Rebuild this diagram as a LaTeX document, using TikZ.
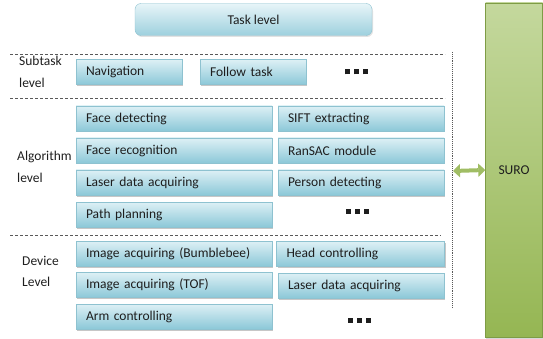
\documentclass[tikz,border=0pt]{standalone}
\usepackage{fontspec}
\setmainfont{Carlito}
\usetikzlibrary{shadows,arrows.meta}
\definecolor{boxtop}{HTML}{DDF0F5}
\definecolor{boxbot}{HTML}{8CC8D8}
\definecolor{boxline}{HTML}{8EC2D0}
\definecolor{grtop}{HTML}{C4D89D}
\definecolor{grbot}{HTML}{95B653}
\definecolor{grline}{HTML}{7E9C45}
\definecolor{txt}{HTML}{1E1E1E}
\newcommand{\moresq}{\rule{5pt}{5pt}\hspace{4pt}\rule{5pt}{5pt}\hspace{4pt}\rule{5pt}{5pt}}
\begin{document}
\begin{tikzpicture}[x=1pt,y=-1pt,font=\fontsize{13.5}{15}\selectfont,text=txt,
    mod/.style={draw=boxline, top color=boxtop, bottom color=boxbot, minimum height=25pt,
      text width=#1, align=left, inner xsep=10pt,
      drop shadow={shadow xshift=1pt, shadow yshift=-1.5pt, fill=gray!55, opacity=0.8}},
    lvl/.style={anchor=west, align=left, inner sep=0pt},
    sep/.style={densely dashed, gray!70!black, line width=0.6pt}]
    \useasboundingbox (0,0) rectangle (543,339);

    \node[draw=boxline, top color=boxtop!70!white, bottom color=boxbot!85!white, rounded corners=6pt,
      minimum width=237pt, minimum height=32pt,
      drop shadow={shadow xshift=1pt, shadow yshift=-1.5pt, fill=gray!45}] (task) at (253.5,19.5) {Task level};

    \node[draw=grline, top color=grtop, bottom color=grbot, minimum width=57pt, minimum height=334pt,
      drop shadow={shadow xshift=0pt, shadow yshift=-1.5pt, fill=gray!60}] (suro) at (514,170) {SURO};

    \node[lvl] (subtask) at (19,61) {Subtask};
    \node[lvl] (subtask2) at (19,83) {level};
    \node[lvl] (alg) at (17,157) {Algorithm};
    \node[lvl] (alg2) at (17,178) {level};
    \node[lvl] (dev) at (22,261) {Device};
    \node[lvl] (dev2) at (22,282) {Level};

    \node[mod=86pt] (nav) at (129,72) {Navigation};
    \node[mod=86pt] (follow) at (253,72) {Follow task};
    \node (more1) at (356,72) {\moresq};

    \node[mod=176pt] (facedet) at (174,118.5) {Face detecting};
    \node[mod=176pt] (facerec) at (174,150.5) {Face recognition};
    \node[mod=176pt] (laser) at (174,182.5) {Laser data acquiring};
    \node[mod=176pt] (path) at (174,214.5) {Path planning};
    \node[mod=146pt] (sift) at (361,118.5) {SIFT extracting};
    \node[mod=146pt] (ransac) at (361,150.5) {RanSAC module};
    \node[mod=146pt] (person) at (361,182.5) {Person detecting};
    \node (more2) at (357,211) {\moresq};

    \node[mod=176pt] (imgbb) at (174,253.5) {Image acquiring (Bumblebee)};
    \node[mod=176pt] (imgtof) at (174,285) {Image acquiring (TOF)};
    \node[mod=176pt] (arm) at (174,316.5) {Arm controlling};
    \node[mod=148pt] (head) at (360.5,254) {Head controlling};
    \node[mod=146pt] (laser2) at (361,285.5) {Laser data acquiring};
    \node (more3) at (359,320) {\moresq};

    \draw[sep] (10,54) -- (445,54);
    \draw[sep] (10,98) -- (445,98);
    \draw[sep] (10,235) -- (441,235);
    \draw[densely dotted, gray!70!black, line width=0.9pt] (452,52) -- (452,308);

    \draw[{Triangle[width=13pt,length=7pt]}-{Triangle[width=13pt,length=7pt]}, line width=4pt, grbot!90!white]
      (453,171) -- (suro.west);
\end{tikzpicture}
\end{document}
